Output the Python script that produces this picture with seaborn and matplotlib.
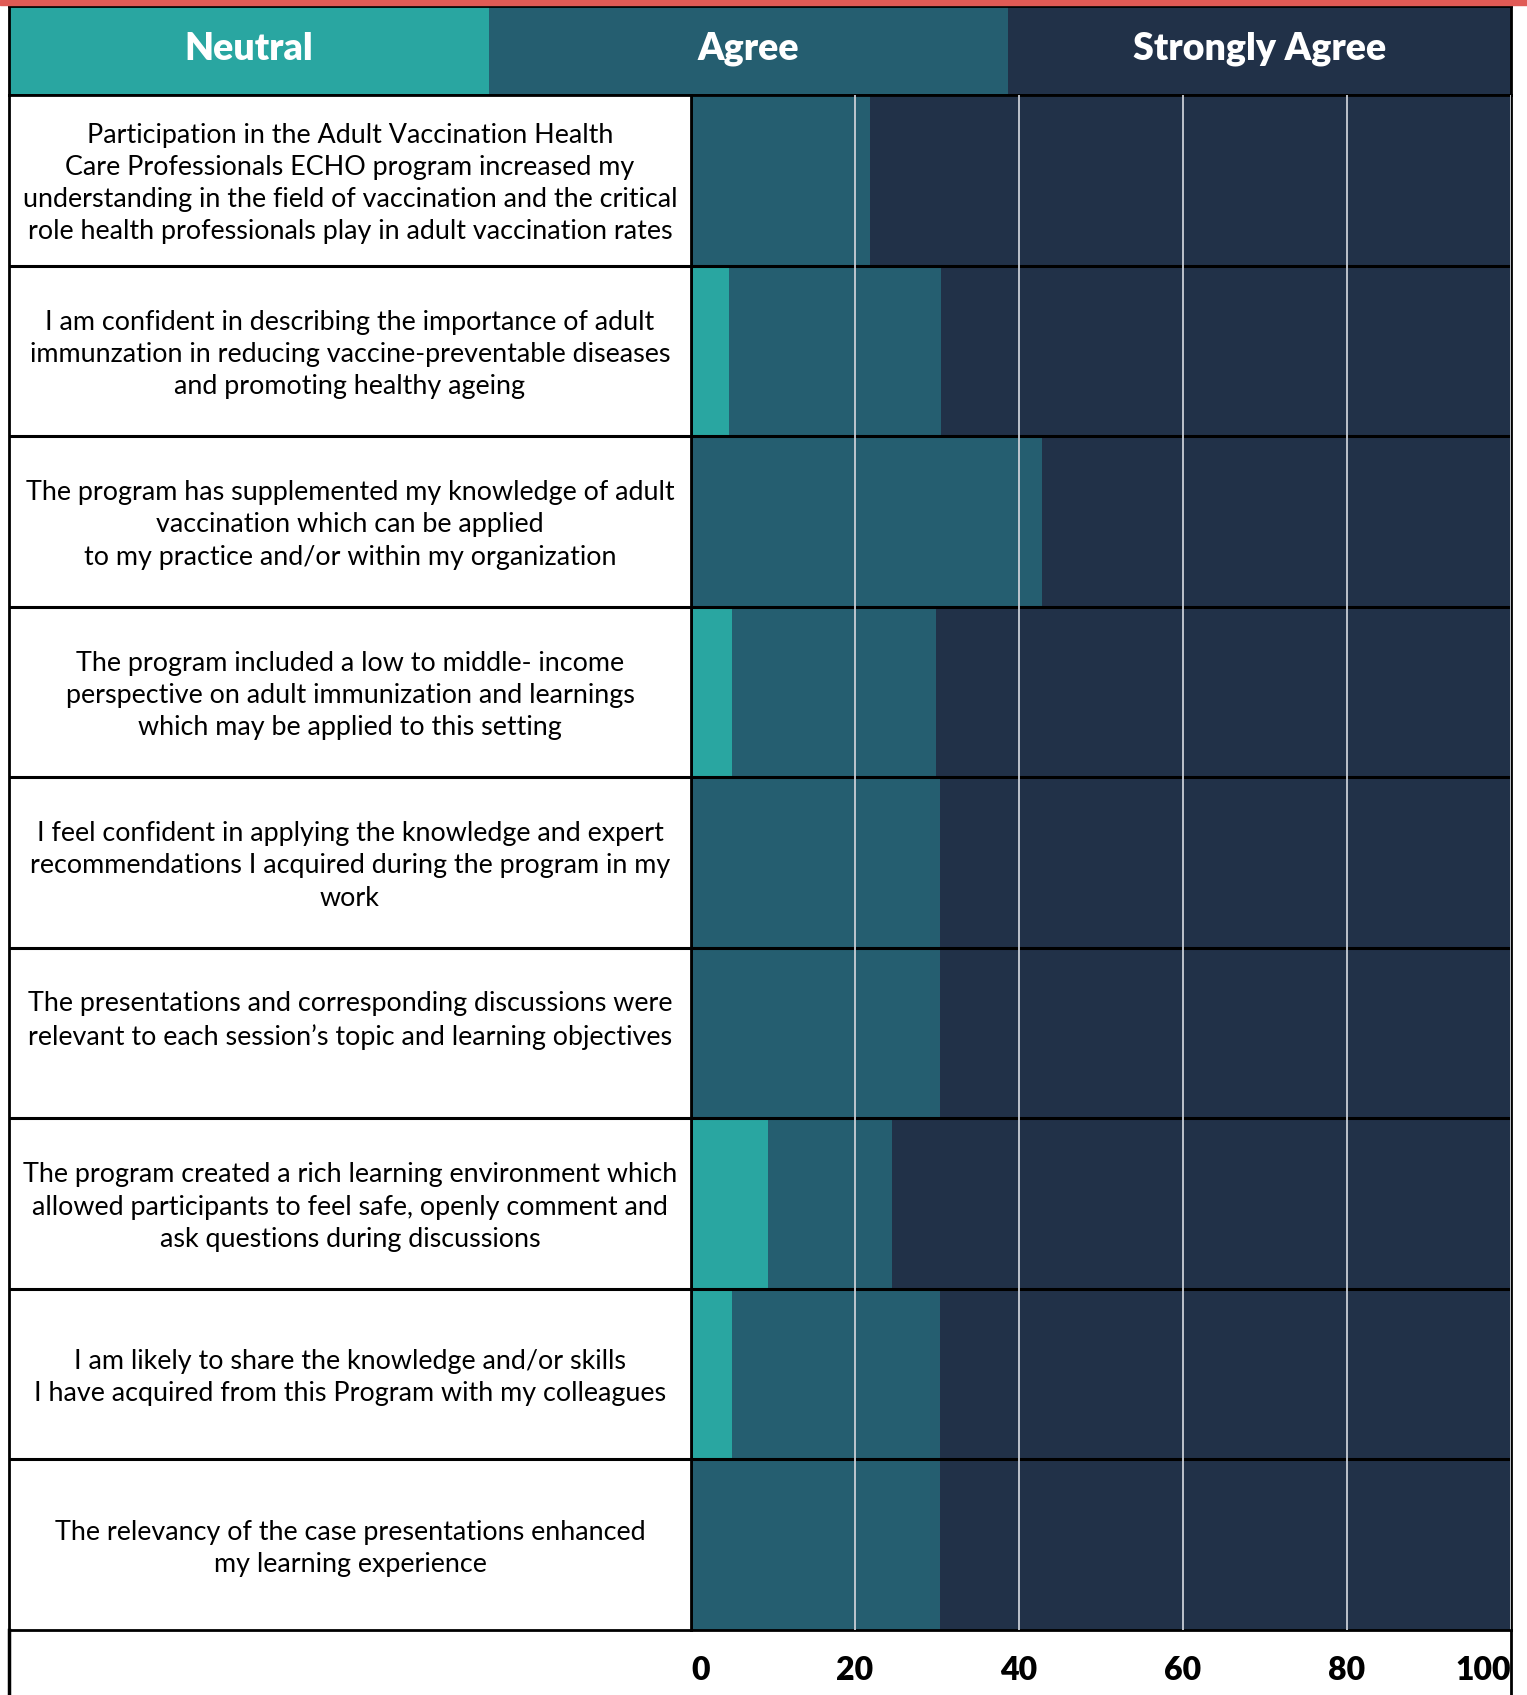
import matplotlib
matplotlib.use('Agg')
import matplotlib.pyplot as plt
import seaborn as sns
import pandas as pd

# statements (rows, top to bottom)
questions = [
    "Participation in the Adult Vaccination Health\nCare Professionals ECHO program increased my\nunderstanding in the field of vaccination and the critical\nrole health professionals play in adult vaccination rates",
    "I am confident in describing the importance of adult\nimmunzation in reducing vaccine-preventable diseases\nand promoting healthy ageing",
    "The program has supplemented my knowledge of adult\nvaccination which can be applied\nto my practice and/or within my organization",
    "The program included a low to middle- income\nperspective on adult immunization and learnings\nwhich may be applied to this setting",
    "I feel confident in applying the knowledge and expert\nrecommendations I acquired during the program in my\nwork",
    "The presentations and corresponding discussions were\nrelevant to each session\u2019s topic and learning objectives\n ",
    "The program created a rich learning environment which\nallowed participants to feel safe, openly comment and\nask questions during discussions",
    "I am likely to share the knowledge and/or skills\nI have acquired from this Program with my colleagues",
    "The relevancy of the case presentations enhanced\nmy learning experience",
]

# percentages
neutral = [0.0, 4.6, 0.0, 5.0, 0.0, 0.0, 9.4, 5.0, 0.0]
agree = [21.8, 25.9, 42.8, 24.9, 30.4, 30.4, 15.1, 25.4, 30.4]
strongly_agree = [78.2, 69.5, 57.2, 70.1, 69.6, 69.6, 75.5, 69.6, 69.6]

categories = ["Neutral", "Agree", "Strongly Agree"]
xticks = [0, 20, 40, 60, 80, 100]

c_neutral = "#29A6A1"
c_agree = "#255E70"
c_strong = "#213148"
c_red = "#E05A55"

df = pd.DataFrame({"question": questions, "neutral": neutral,
                   "agree": agree, "strong": strongly_agree})
df["cum_agree"] = df["neutral"] + df["agree"]
df["total"] = df["cum_agree"] + df["strong"]

W, H = 1527, 1695
fig = plt.figure(figsize=(W / 100, H / 100), dpi=100)
fig.patch.set_facecolor("white")

# red strip on top
fig.patches.append(plt.Rectangle((0, 1 - 5 / H), 1, 5 / H, transform=fig.transFigure,
                                 color=c_red, zorder=0))

x0, x_split, x1 = 9, 691, 1511
y_top, y_head, y_bot = 6, 95, 1630

def fx(px):
    return px / W

def fy(py):
    return 1 - py / H

# header (legend strip)
ax_h = fig.add_axes([fx(x0), fy(y_head), fx(x1 - x0), (y_head - y_top) / H])
head_edges = [0, 480, 999, 1502]
head_cols = [c_neutral, c_agree, c_strong]
for i, cat in enumerate(categories):
    ax_h.axvspan(head_edges[i], head_edges[i + 1], color=head_cols[i], lw=0)
    ax_h.text((head_edges[i] + head_edges[i + 1]) / 2, 0.52, cat, ha="center", va="center",
              color="white", fontsize=27, fontweight="heavy", family=["Lato", "DejaVu Sans"])
ax_h.set_xlim(0, 1502)
ax_h.set_ylim(0, 1)
ax_h.set_xticks([])
ax_h.set_yticks([])
for s in ax_h.spines.values():
    s.set_color("black")
    s.set_linewidth(2)

# main stacked bars
ax = fig.add_axes([fx(x_split), fy(y_bot), fx(x1 - x_split), (y_bot - y_head) / H])
for col, c in [("total", c_strong), ("cum_agree", c_agree), ("neutral", c_neutral)]:
    sns.barplot(data=df, x=col, y="question", color=c, saturation=1, orient="h",
                width=1.0, linewidth=0, ax=ax)
ax.set_xlim(0, 100)
ax.set_ylim(len(questions) - 0.5, -0.5)
ax.set_ylabel("")
ax.set_xlabel("")
ax.set_yticks([])
ax.set_xticks(xticks)
ax.set_xticklabels([str(t) for t in xticks], fontsize=23, fontweight="heavy",
                   family=["Lato", "DejaVu Sans"])
labs = ax.get_xticklabels()
labs[0].set_ha("left")
labs[-1].set_ha("right")
ax.tick_params(axis="x", length=0, pad=19)
ax.set_axisbelow(False)
ax.xaxis.grid(True, color="#c9ced5", linewidth=1.3)
for i in range(len(questions) - 1):
    ax.axhline(i + 0.5, color="black", lw=2.2)
for s in ax.spines.values():
    s.set_color("black")
    s.set_linewidth(2)

# label column
ax_l = fig.add_axes([fx(x0), fy(y_bot), fx(x_split - x0), (y_bot - y_head) / H])
ax_l.set_xlim(0, 1)
ax_l.set_ylim(len(questions) - 0.5, -0.5)
for i, q in enumerate(questions):
    ax_l.text(0.5, i + 0.02, q, ha="center", va="center", fontsize=19.4, color="black",
              family=["Lato", "DejaVu Sans"], linespacing=1.36)
    if i < len(questions) - 1:
        ax_l.axhline(i + 0.5, color="black", lw=2.2)
ax_l.set_xticks([])
ax_l.set_yticks([])
for s in ax_l.spines.values():
    s.set_color("black")
    s.set_linewidth(2)

# frame lines around the tick area at the bottom
fig.add_artist(plt.Line2D([fx(x0), fx(x0)], [0, fy(y_bot)], color="black", lw=2.5))
fig.add_artist(plt.Line2D([fx(x1), fx(x1)], [0, fy(y_bot)], color="black", lw=2))

fig.savefig("out.png", dpi=100, facecolor="white")
